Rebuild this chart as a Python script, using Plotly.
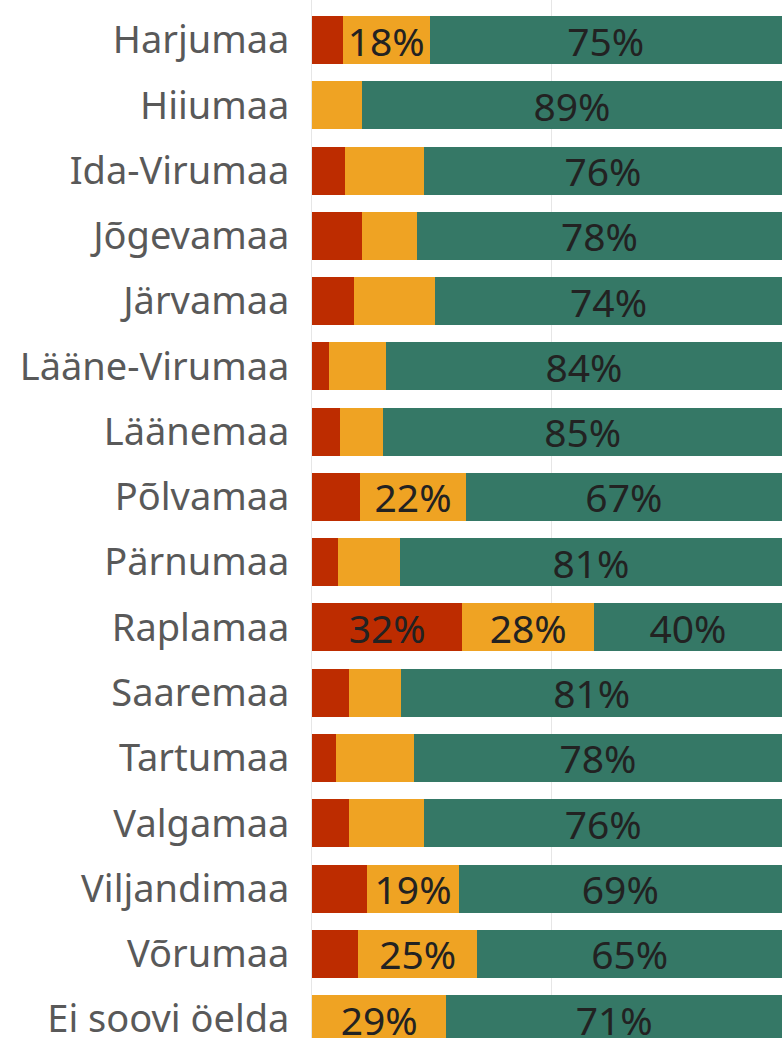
import plotly.graph_objects as go

categories = ["Harjumaa", "Hiiumaa", "Ida-Virumaa", "Jõgevamaa", "Järvamaa",
              "Lääne-Virumaa", "Läänemaa", "Põlvamaa", "Pärnumaa", "Raplamaa",
              "Saaremaa", "Tartumaa", "Valgamaa", "Viljandimaa", "Võrumaa",
              "Ei soovi öelda"]
red_vals = [6.6, 0.0, 7.0, 10.6, 9.0, 3.7, 6.0, 10.3, 5.6, 32.0, 7.9, 5.1, 7.9, 11.8, 9.8, 0.0]
orange_vals = [18.4, 10.6, 16.8, 11.7, 17.2, 12.0, 9.2, 22.4, 13.1, 28.0, 11.1, 16.6, 16.0, 19.4, 25.4, 28.6]
green_vals = [75.0, 89.4, 76.2, 77.7, 73.8, 84.3, 84.8, 67.3, 81.3, 40.0, 81.0, 78.3, 76.1, 68.8, 64.8, 71.4]

series = [
    ("Punane", red_vals, "#BD2C00"),
    ("Oranž", orange_vals, "#EFA323"),
    ("Roheline", green_vals, "#357866"),
]

LABEL_MIN = 18
FONT = "Noto Sans"

fig = go.Figure()
for name, vals, color in series:
    texts = [f"{round(v)}%" if v >= LABEL_MIN else "" for v in vals]
    fig.add_trace(go.Bar(
        y=categories, x=vals, name=name, orientation="h",
        marker=dict(color=color, line=dict(width=0)),
        text=texts, textposition="inside", insidetextanchor="middle",
        textangle=0, constraintext="none",
        textfont=dict(family=FONT, size=39, color="#222222"),
        hoverinfo="skip",
    ))

fig.update_layout(
    barmode="stack",
    bargap=0.265,
    width=782, height=1038,
    margin=dict(l=312, r=0, t=0, b=0),
    plot_bgcolor="white", paper_bgcolor="white",
    showlegend=False,
    font=dict(family=FONT),
)
fig.update_xaxes(range=[0, 100], showticklabels=False, tickvals=[51],
                 showgrid=True, gridcolor="#e6e6e6", gridwidth=1,
                 zeroline=False, showline=False)
fig.update_yaxes(categoryorder="array", categoryarray=categories,
                 range=[15.29, -0.613], showgrid=False, automargin=False,
                 showline=True, linecolor="#e6e6e6", linewidth=1,
                 ticks="", ticklabelstandoff=14,
                 tickfont=dict(family=FONT, size=38, color="#595959"))

fig.write_html("out.html", config={"displayModeBar": False},
               post_script="document.body.style.margin='0';document.body.style.overflow='hidden';")
